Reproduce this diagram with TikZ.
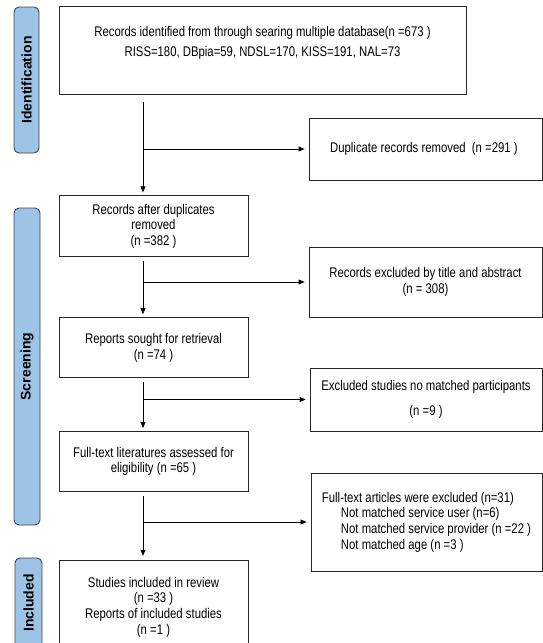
\documentclass[tikz,border=0pt]{standalone}
\usepackage{fontspec}
\setmainfont{Liberation Sans}[FakeStretch=0.81]
\newfontfamily\stagefont{Liberation Sans}
\usetikzlibrary{arrows.meta,positioning}
\definecolor{stageblue}{RGB}{157,195,230}
\definecolor{stageedge}{RGB}{60,70,85}
\definecolor{boxedge}{RGB}{40,40,40}

\begin{document}
\begin{tikzpicture}[
    x=1pt,
    y=-1pt,
    >={Triangle[length=6pt,width=5pt]},
    txt/.style={
        align=center,
        inner sep=0pt,
        font=\fontsize{14}{15.6}\selectfont
    },
    box/.style={
        txt,
        draw=boxedge,
        line width=0.8pt
    },
    stage/.style={
        draw=stageedge,
        fill=stageblue,
        line width=0.9pt,
        rounded corners=5pt,
        rotate=90,
        inner sep=0pt,
        font=\stagefont\bfseries\fontsize{14}{16}\selectfont
    },
    flow/.style={->, line width=0.8pt, black}
]

\useasboundingbox (0,0) rectangle (543,643);

% stage bars
\node[stage, minimum width=146pt, minimum height=25pt] (identbar) at (26.5,80) {Identification};
\node[stage, minimum width=317pt, minimum height=26pt] (screenbar) at (27,366.5) {Screening};
\node[stage, minimum width=90pt, minimum height=27pt] (inclbar) at (28.5,603) {Included};

% main column
\node[box, minimum width=407pt, minimum height=88pt] (search) at (262.5,50) {};
\node[txt, anchor=north] (searchtxt) at ([yshift=-21pt]search.north) {
    Records identified from through searing multiple database(n =673 )\\[4pt]
    RISS=180, DBpia=59, NDSL=170, KISS=191, NAL=73
};

\node[
    box,
    minimum width=189pt,
    minimum height=61pt,
    below=101pt of search.south west,
    anchor=north west
] (after) {
    Records after duplicates\\
    removed\\
    (n =382 )
};

\node[box, minimum width=189pt, minimum height=60pt, below=60pt of after] (sought) {
    Reports sought for retrieval\\
    (n =74 )
};

\node[box, minimum width=189pt, minimum height=60pt, below=53pt of sought] (fulltext) {
    Full-text literatures assessed for\\
    eligibility (n =65 )
};

\node[box, minimum width=189pt, minimum height=84pt, below=68pt of fulltext] (incl) {
    \rule{0pt}{20pt}Studies included in review\\
    (n =33 )\\
    Reports of included studies\\
    (n =1 )
};

% excluded column
\node[box, minimum width=233pt, minimum height=62pt] (dup) at (425.5,149) {
    Duplicate records removed~~(n =291 )
};

\node[box, minimum width=233pt, minimum height=70pt] (excl) at (425.5,282) {
    Records excluded by title and abstract\\
    (n = 308)
};

\node[box, minimum width=232pt, minimum height=63pt] (nomatch) at (426,399.5) {
    Excluded studies no matched participants\\[10pt]
    (n =9 )
};

\node[box, align=left, minimum width=231pt, minimum height=98pt] (ftex) at (426.5,522) {
    Full-text articles were excluded (n=31)\\
    \hspace*{19pt}Not matched service user (n=6)\\
    \hspace*{19pt}Not matched service provider (n =22 )\\
    \hspace*{19pt}Not matched age (n =3 )
};

% connectors
\coordinate (spine) at (143,0);

\draw[flow, shorten <=8pt, shorten >=3pt] (search.south -| spine) -- (after.north -| spine);
\draw[flow, shorten >=4pt] (spine |- dup.west) -- (dup.west);

\draw[flow, shorten <=4pt, shorten >=3pt] (after.south -| spine) -- (sought.north -| spine);
\draw[flow, shorten >=4pt] (spine |- excl.west) -- (excl.west);

\draw[flow, shorten <=4pt, shorten >=3pt] (sought.south -| spine) -- (fulltext.north -| spine);
\draw[flow, shorten >=4pt] (spine |- nomatch.west) -- (nomatch.west);

\draw[flow, shorten <=4pt, shorten >=4pt] (fulltext.south -| spine) -- (incl.north -| spine);
\draw[flow, shorten >=4pt] (spine |- ftex.west) -- (ftex.west);

\end{tikzpicture}
\end{document}
